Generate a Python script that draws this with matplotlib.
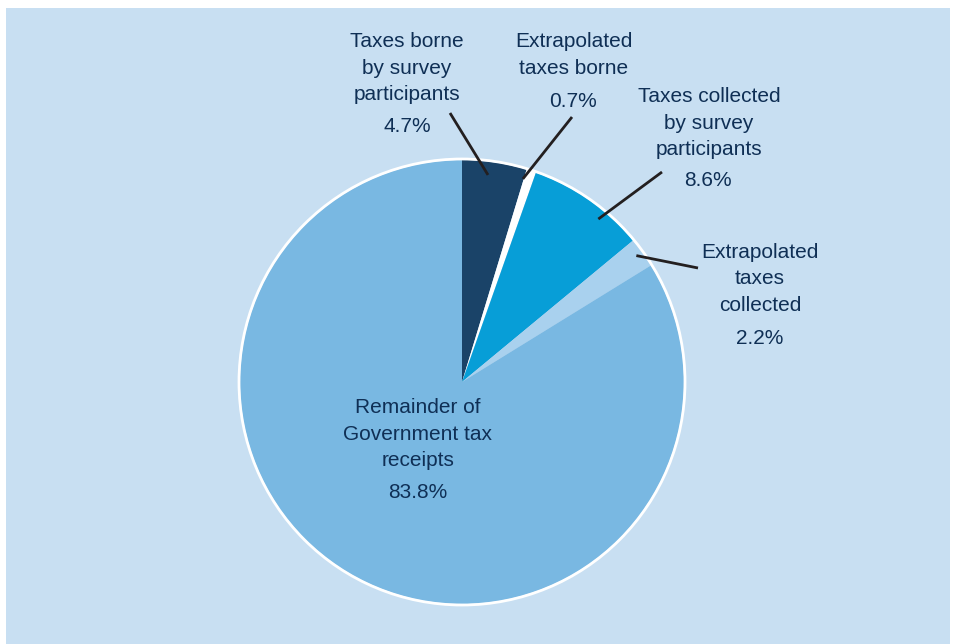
import numpy as np
import matplotlib
matplotlib.use("Agg")
import matplotlib.pyplot as plt
from matplotlib.patches import Rectangle, Circle

plt.rcParams['font.family'] = ['Liberation Sans', 'DejaVu Sans']

# Shares of Government tax receipts (%)
labels = ["Taxes borne\nby survey\nparticipants",
          "Extrapolated\ntaxes borne",
          "Taxes collected\nby survey\nparticipants",
          "Extrapolated\ntaxes\ncollected",
          "Remainder of\nGovernment tax\nreceipts"]
shares = [4.7, 0.7, 8.6, 2.2, 83.8]
colors = ["#1a4368", "#ffffff", "#079ed7", "#a9d1ee", "#79b8e2"]

W, H = 954, 644
bg = "#c8dff2"
text_col = "#0f2f55"

fig = plt.figure(figsize=(W / 100, H / 100), dpi=100, facecolor="white")
ax = fig.add_axes([0, 0, 1, 1])

# panel background
ax.add_patch(Rectangle((6, 0), 944, H - 8, facecolor=bg, edgecolor="none", zorder=0))

cx, cy, R = 462, H - 382, 222
wedges, _ = ax.pie(shares, colors=colors, startangle=90, counterclock=False,
                   center=(cx, cy), radius=R, frame=True,
                   wedgeprops=dict(linewidth=0, zorder=1))
ax.set_xlim(0, W)
ax.set_ylim(0, H)
ax.set_aspect("equal")
ax.axis("off")
ax.add_patch(Circle((cx, cy), R + 1, facecolor="none", edgecolor="white",
                    linewidth=2, zorder=2))

# label text positions (pixels from top-left) and leader line settings
label_pos = [(407, 68), (574, 55), (709, 123), (760, 279), (418, 434)]
pct_pos = [(407, 126), (573, 101), (708, 181), (760, 338), (418, 493)]
leader_start = [(450, 113), (572, 117), (662, 172), (698, 268), None]
leader_r = [0.94, 0.955, 0.957, 0.97, None]
leader_shift = [1.3, 1.5, -5.0, 0.3, 0]

cum = np.cumsum([0] + shares)
for i, lab in enumerate(labels):
    x, y = label_pos[i]
    ax.text(x, H - y, lab, ha="center", va="center", fontsize=15,
            color=text_col, linespacing=1.5, zorder=5)
    px, py = pct_pos[i]
    ax.text(px, H - py, f"{shares[i]}%", ha="center", va="center",
            fontsize=15, color=text_col, zorder=5)
    if leader_start[i] is not None:
        mid = 90 - (cum[i] + shares[i] / 2) * 3.6 + leader_shift[i]
        ex = cx + leader_r[i] * R * np.cos(np.radians(mid))
        ey = cy + leader_r[i] * R * np.sin(np.radians(mid))
        sx, sy = leader_start[i]
        ax.plot([sx, ex], [H - sy, ey], color="#231f20", linewidth=2,
                solid_capstyle="butt", zorder=4)

fig.savefig("out.png", dpi=100, facecolor=fig.get_facecolor())
